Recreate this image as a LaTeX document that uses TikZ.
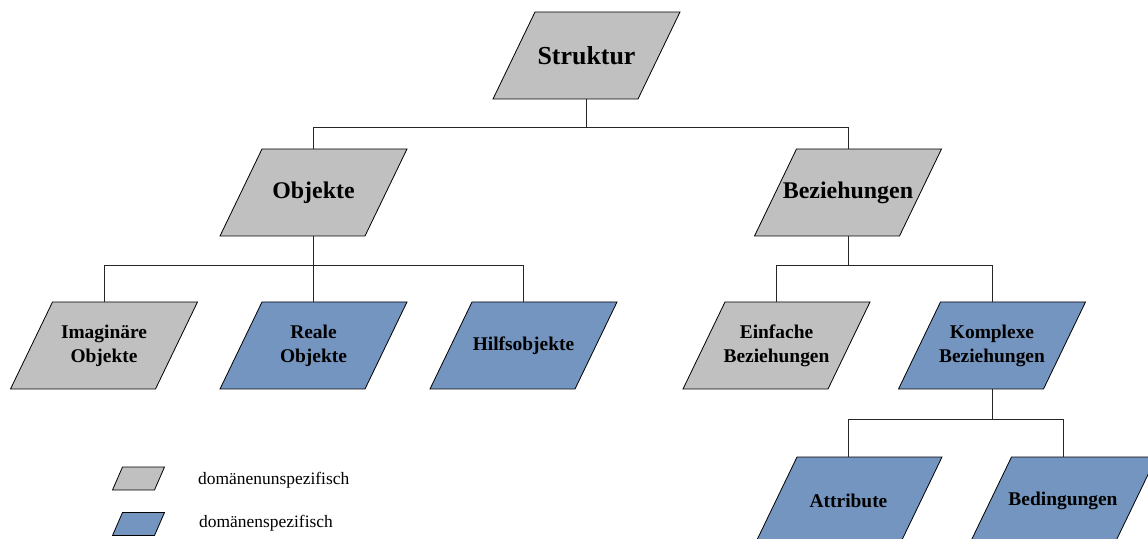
\documentclass[tikz,border=0pt]{standalone}
\usepackage{fontspec}
\setmainfont{Liberation Serif}
\definecolor{neutral}{HTML}{C0C0C0}
\definecolor{domain}{HTML}{7395C0}
\tikzset{
  outline/.style={draw=black, line width=0.8bp, line join=miter},
  conn/.style={draw=black!85, line width=0.8bp},
  lbl/.style={inner sep=0pt, minimum width=100bp, minimum height=87bp, align=center, font=\bfseries},
  toplbl/.style={lbl, font=\bfseries\fontsize{26}{30}\selectfont},
  midlbl/.style={lbl, font=\bfseries\fontsize{24}{28}\selectfont},
  leaflbl/.style={lbl, font=\bfseries\fontsize{19.5}{24}\selectfont},
  keytext/.style={inner sep=0pt, anchor=west, font=\fontsize{17.5}{20}\selectfont},
}
% parallelogram box: name, centre x, centre y, fill colour, label style, text
\newcommand\parabox[6]{%
  \path[outline, fill=#4] (#2-51.5,#3-43.5) -- ++(145,0) -- ++(-42,87) -- ++(-145,0) -- cycle;
  \node[#5] (#1) at (#2,#3) {#6};}
% small legend swatch: name, centre x, centre y, fill colour
\newcommand\swatch[4]{%
  \path[outline, fill=#4] (#2-16,#3-11.5) -- ++(42,0) -- ++(-10,23) -- ++(-42,0) -- cycle;
  \node[inner sep=0pt, minimum width=42bp, minimum height=23bp] (#1) at (#2,#3) {};}
\begin{document}
\begin{tikzpicture}[x=1bp, y=-1bp]
\useasboundingbox (0,0) rectangle (1148,539);

\parabox{struktur}{586.5}{55.5}{neutral}{toplbl}{Struktur}
\parabox{objekte}{313.5}{192.5}{neutral}{midlbl}{Objekte}
\parabox{bez}{848}{192.5}{neutral}{midlbl}{Beziehungen}

\parabox{imag}{104}{345.5}{neutral}{leaflbl}{Imaginäre\\Objekte}
\parabox{real}{313.5}{345.5}{domain}{leaflbl}{Reale\\Objekte}
\parabox{hilf}{523.5}{345.5}{domain}{leaflbl}{Hilfsobjekte}
\parabox{einf}{776.5}{345.5}{neutral}{leaflbl}{Einfache\\Beziehungen}
\parabox{kompl}{992}{345.5}{domain}{leaflbl}{Komplexe\\Beziehungen}

\parabox{attr}{848.5}{500.5}{domain}{leaflbl}{Attribute}
\parabox{bed}{1063}{500.5}{domain}{leaflbl}{Bedingungen}

% tree connectors
\foreach \c in {objekte,bez}
  \draw[conn] (struktur.south) -- ++(0,28) -| (\c.north);
\foreach \c in {imag,real,hilf}
  \draw[conn] (objekte.south) -- ++(0,29) -| (\c.north);
\foreach \c in {einf,kompl}
  \draw[conn] (bez.south) -- ++(0,29) -| (\c.north);
\foreach \c in {attr,bed}
  \draw[conn] (kompl.south) -- ++(0,30) -| (\c.north);

% legend
\swatch{keyneutral}{138.5}{478.5}{neutral}
\swatch{keydomain}{138.5}{524}{domain}
\node[keytext] (keyneutraltext) at (198,480) {domänenunspezifisch};
\node[keytext] (keydomaintext) at (199,523) {domänenspezifisch};
\end{tikzpicture}
\end{document}
